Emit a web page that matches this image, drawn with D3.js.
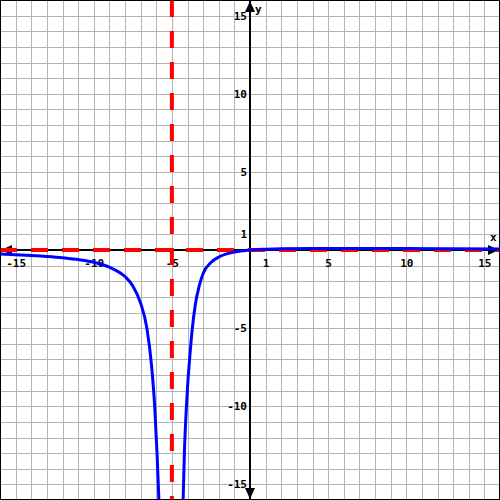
<!DOCTYPE html>
<html>
<head>
<meta charset="utf-8">
<script src="https://cdn.jsdelivr.net/npm/d3@7"></script>
<style>
  body { margin: 0; background: #fff; }
  svg text { font-family: "DejaVu Sans Mono", monospace; font-weight: bold; font-size: 11px; fill: #000; }
</style>
</head>
<body>
<svg id="chart" width="500" height="500"></svg>
<script>
// tick labels on both axes
const xTickValues = [-15, -10, -5, 1, 5, 10, 15];
const yTickValues = [-15, -10, -5, 1, 5, 10, 15];

// asymptotes
const vertAsymptote = -5;
const horizAsymptote = 0;

// curve, left of x = -5
const leftX = [-16, -15, -14, -13, -12, -11, -10, -9, -8, -7.5, -7, -6.6, -6.3, -6.1, -5.95, -5.83];
const leftY = [-0.26, -0.3, -0.35, -0.41, -0.49, -0.61, -0.78, -1.1, -1.7, -2.3, -3.4, -5, -7.4, -10, -13, -16];

// curve, right of x = -5
const rightX = [-4.28, -4.2, -4.1, -4, -3.85, -3.7, -3.5, -3.25, -3, -2.5, -2, -1.5, -1, 0, 1, 2, 4, 6, 8, 10, 13, 16];
const rightY = [-16, -13, -10.6, -8.8, -6.8, -5.1, -3.5, -2.3, -1.5, -0.8, -0.45, -0.25, -0.13, 0, 0.05, 0.08, 0.1, 0.1, 0.09, 0.09, 0.08, 0.07];

let chart = d3.select("#chart");
let width = 500, height = 500;

let x = d3.scaleLinear().domain([-16, 16]).range([0, width]);
let y = d3.scaleLinear().domain([-16, 16]).range([height, 0]);

// grid
let gridVals = d3.range(-16, 17);
chart.append("g").selectAll("line.v")
  .data(gridVals).enter().append("line")
    .attr("x1", d => Math.round(x(d)) + 0.5).attr("x2", d => Math.round(x(d)) + 0.5)
    .attr("y1", 0).attr("y2", height)
    .attr("stroke", "#b4b4b4").attr("stroke-width", 1);
chart.append("g").selectAll("line.h")
  .data(gridVals).enter().append("line")
    .attr("y1", d => Math.round(y(d)) + 0.5).attr("y2", d => Math.round(y(d)) + 0.5)
    .attr("x1", 0).attr("x2", width)
    .attr("stroke", "#b4b4b4").attr("stroke-width", 1);

// axes lines
let x0 = x(0), y0 = y(0);
chart.append("line").attr("x1", 0).attr("x2", width).attr("y1", y0).attr("y2", y0)
  .attr("stroke", "#000").attr("stroke-width", 2);
chart.append("line").attr("x1", x0).attr("x2", x0).attr("y1", 0).attr("y2", height)
  .attr("stroke", "#000").attr("stroke-width", 2);

// arrow heads
let arrows = [
  [[width - 1, y0], [width - 12, y0 - 5], [width - 12, y0 + 5]],
  [[1, y0], [12, y0 - 5], [12, y0 + 5]],
  [[x0, 1], [x0 - 5, 12], [x0 + 5, 12]],
  [[x0, height - 1], [x0 - 5, height - 12], [x0 + 5, height - 12]]
];
chart.append("g").selectAll("path")
  .data(arrows).enter().append("path")
    .attr("d", d => "M" + d.join("L") + "Z")
    .attr("fill", "#000");

// tick labels
let xAxis = d3.axisBottom(x).tickValues(xTickValues).tickSize(0).tickFormat(d => String(d));
let xAxisGroup = chart.append("g")
  .attr("transform", "translate(0," + y0 + ")")
  .call(xAxis);
xAxisGroup.select(".domain").remove();
xAxisGroup.selectAll("text").attr("y", 9).attr("dy", "0.71em")
  .attr("fill", "#000").style("font-size", "11px").style("font-family", "'DejaVu Sans Mono', monospace").style("font-weight", "bold");

let yAxis = d3.axisLeft(y).tickValues(yTickValues).tickSize(0).tickPadding(3).tickFormat(d => String(d));
let yAxisGroup = chart.append("g")
  .attr("transform", "translate(" + x0 + ",0)")
  .call(yAxis);
yAxisGroup.select(".domain").remove();
yAxisGroup.selectAll("text")
  .attr("fill", "#000").style("font-size", "11px").style("font-family", "'DejaVu Sans Mono', monospace").style("font-weight", "bold");

chart.append("text").text("x").attr("x", 490).attr("y", 241);
chart.append("text").text("y").attr("x", 255).attr("y", 13);

// asymptotes
chart.append("line")
  .attr("x1", x(vertAsymptote)).attr("x2", x(vertAsymptote))
  .attr("y1", 0).attr("y2", height)
  .attr("stroke", "#ff0000").attr("stroke-width", 4)
  .attr("stroke-dasharray", "17,14");
chart.append("line")
  .attr("x1", 0).attr("x2", width)
  .attr("y1", y(horizAsymptote)).attr("y2", y(horizAsymptote))
  .attr("stroke", "#ff0000").attr("stroke-width", 4)
  .attr("stroke-dasharray", "17,14");

// curve
let line = d3.line()
  .x(d => x(d[0]))
  .y(d => y(d[1]))
  .curve(d3.curveMonotoneX);

let branches = [d3.zip(leftX, leftY), d3.zip(rightX, rightY)];
chart.append("g").selectAll("path")
  .data(branches).enter().append("path")
    .attr("d", line)
    .attr("fill", "none")
    .attr("stroke", "#0000ff")
    .attr("stroke-width", 3);

// frame
chart.append("rect")
  .attr("x", 0.5).attr("y", 0.5).attr("width", width - 1).attr("height", height - 1)
  .attr("fill", "none").attr("stroke", "#000").attr("stroke-width", 1);
</script>
</body>
</html>
